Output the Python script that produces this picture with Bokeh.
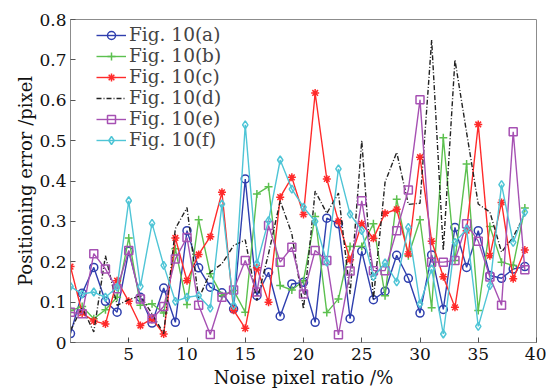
from bokeh.plotting import figure
from bokeh.models import FixedTicker, Legend, LegendItem, Title
from bokeh.embed import file_html
from bokeh.resources import INLINE

x = list(range(40))

fig_a = [0.022, 0.122, 0.186, 0.102, 0.075, 0.226, 0.112, 0.048, 0.135, 0.050,
         0.277, 0.185, 0.137, 0.123, 0.083, 0.405, 0.116, 0.174, 0.065, 0.145,
         0.149, 0.050, 0.308, 0.294, 0.059, 0.226, 0.106, 0.127, 0.216, 0.159,
         0.073, 0.217, 0.082, 0.285, 0.186, 0.277, 0.166, 0.159, 0.182, 0.188]
fig_b = [0.079, 0.089, 0.059, 0.081, 0.112, 0.259, 0.092, 0.096, 0.073, 0.232,
         0.094, 0.304, 0.170, 0.116, 0.129, 0.075, 0.368, 0.386, 0.141, 0.130,
         0.153, 0.312, 0.074, 0.108, 0.238, 0.238, 0.294, 0.116, 0.355, 0.215,
         0.304, 0.086, 0.507, 0.203, 0.442, 0.079, 0.287, 0.199, 0.191, 0.333]
fig_c = [0.188, 0.073, 0.053, 0.046, 0.153, 0.102, 0.042, 0.059, 0.021, 0.259,
         0.153, 0.218, 0.262, 0.372, 0.080, 0.035, 0.185, 0.100, 0.360, 0.409,
         0.317, 0.618, 0.405, 0.300, 0.205, 0.294, 0.258, 0.320, 0.330, 0.219,
         0.459, 0.251, 0.163, 0.087, 0.277, 0.540, 0.215, 0.347, 0.158, 0.229]
fig_d = [0.030, 0.087, 0.026, 0.215, 0.092, 0.106, 0.116, 0.071, 0.022, 0.282,
         0.334, 0.108, 0.174, 0.195, 0.240, 0.254, 0.104, 0.220, 0.351, 0.269,
         0.083, 0.375, 0.320, 0.370, 0.120, 0.500, 0.108, 0.397, 0.471, 0.342,
         0.345, 0.749, 0.228, 0.700, 0.520, 0.343, 0.323, 0.224, 0.261, 0.318]
fig_e = [0.075, 0.071, 0.220, 0.182, 0.133, 0.228, 0.108, 0.059, 0.089, 0.207,
         0.260, 0.092, 0.020, 0.112, 0.130, 0.203, 0.125, 0.290, 0.199, 0.236,
         0.120, 0.228, 0.203, 0.019, 0.177, 0.351, 0.178, 0.178, 0.277, 0.378,
         0.601, 0.199, 0.199, 0.203, 0.294, 0.251, 0.162, 0.092, 0.522, 0.180]
fig_f = [0.139, 0.120, 0.125, 0.112, 0.137, 0.351, 0.139, 0.295, 0.191, 0.102,
         0.112, 0.116, 0.085, 0.343, 0.092, 0.539, 0.195, 0.302, 0.452, 0.380,
         0.335, 0.300, 0.199, 0.430, 0.318, 0.277, 0.163, 0.197, 0.150, 0.285,
         0.096, 0.182, 0.021, 0.248, 0.281, 0.040, 0.141, 0.391, 0.248, 0.323]

labels = ["Fig. 10(a)", "Fig. 10(b)", "Fig. 10(c)", "Fig. 10(d)", "Fig. 10(e)", "Fig. 10(f)"]
x_ticks = [5, 10, 15, 20, 25, 30, 35, 40]
y_ticks = [0, 0.1, 0.2, 0.3, 0.4, 0.5, 0.6, 0.7, 0.8]

FONT = "DejaVu Serif"

p = figure(width=546, height=390, x_range=(0, 40), y_range=(0, 0.8),
           output_backend="svg", toolbar_location=None,
           min_border_left=70, min_border_right=10, min_border_top=19, min_border_bottom=48)
p.grid.visible = False
p.outline_line_color = "#8c8c8c"
p.outline_line_width = 1

series = [
    (fig_a, "#2f3fae", "circle", None),
    (fig_b, "#5cc04f", "cross", None),
    (fig_c, "#ff2a2a", "asterisk", None),
    (fig_d, "#222222", None, "5 2 1 2"),
    (fig_e, "#a651b3", "square", None),
    (fig_f, "#4fc5d6", "diamond", None),
]

items = []
for (ys, color, marker, dash), lab in zip(series, labels):
    rs = []
    r = p.line(x, ys, line_color=color, line_width=1.4,
               line_dash=dash if dash else "solid")
    rs.append(r)
    if marker:
        m = p.scatter(x, ys, marker=marker, size=8, line_color=color,
                      fill_color=None, line_width=1.5)
        rs.append(m)
    items.append(LegendItem(label=lab, renderers=rs))

legend = Legend(items=items, location=(26, 192), padding=0, margin=0, spacing=0,
                glyph_width=30, glyph_height=20, label_height=20, label_standoff=3,
                border_line_color=None, background_fill_alpha=0,
                label_text_font=FONT, label_text_font_size="18.5px")
p.add_layout(legend)

for ax in (p.xaxis[0], p.yaxis[0]):
    ax.major_tick_in = 5
    ax.major_tick_out = 0
    ax.minor_tick_line_color = None
    ax.axis_line_color = "#8c8c8c"
    ax.major_tick_line_color = "#555555"
    ax.major_label_text_font = FONT
    ax.major_label_text_font_size = "17px"
    ax.major_label_text_color = "#111111"
    ax.axis_label_text_font = FONT
    ax.axis_label_text_font_size = "18px"
    ax.axis_label_text_font_style = "normal"
    ax.axis_label_text_color = "#111111"

p.xaxis.ticker = FixedTicker(ticks=x_ticks)
p.yaxis.ticker = FixedTicker(ticks=y_ticks)
p.yaxis.major_label_overrides = {0: "0"}
p.xaxis.axis_label = "Noise pixel ratio /%"
p.xaxis.axis_label_standoff = 4
p.yaxis.major_label_standoff = 4

ylab = Title(text="Positioning error /pixel", align="center", offset=15,
             text_font=FONT, text_font_size="18px", text_font_style="normal",
             text_color="#111111", standoff=2)
p.add_layout(ylab, "left")

open("out.html", "w").write(file_html(p, INLINE))
